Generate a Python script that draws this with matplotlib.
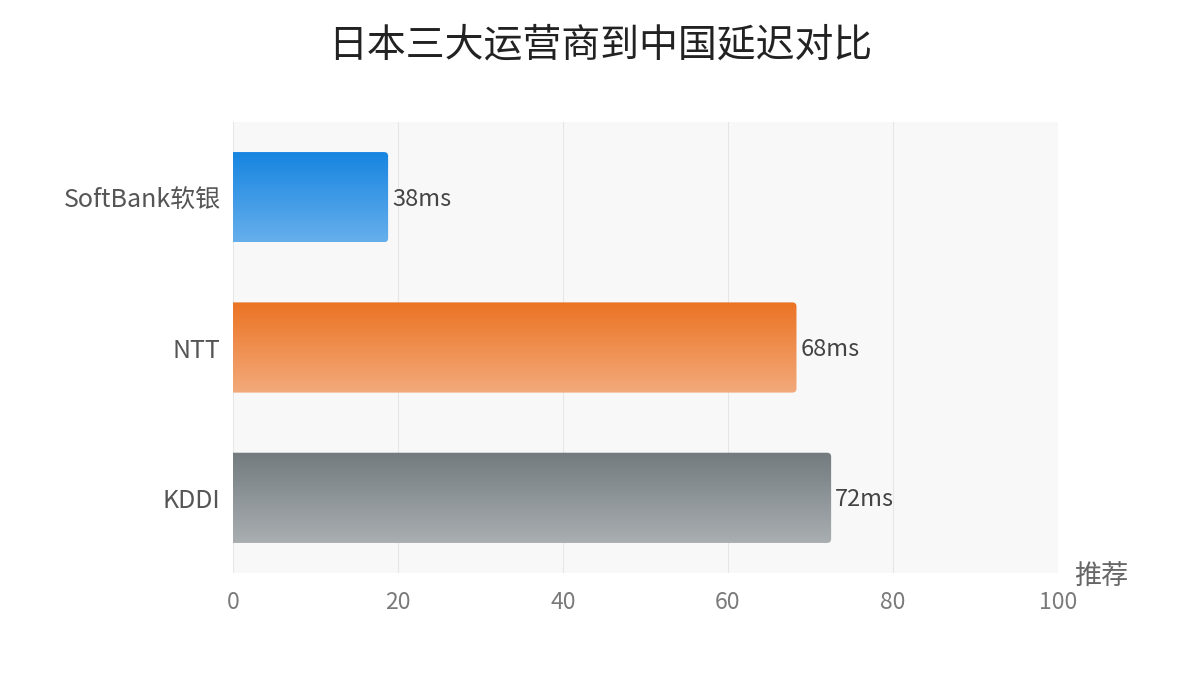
import matplotlib
matplotlib.use("Agg")
import matplotlib.pyplot as plt
import numpy as np
from matplotlib.patches import FancyBboxPatch
from matplotlib.colors import to_rgba

plt.rcParams['font.family'] = ['Noto Sans CJK SC', 'DejaVu Sans']

# ---- data ----
categories = ["SoftBank软银", "NTT", "KDDI"]
values = [18.8, 68.3, 72.5]
value_labels = ["38ms", "68ms", "72ms"]
top_colors = ["#1684e0", "#eb7323", "#737b7f"]
bottom_colors = ["#66afec", "#f3aa7c", "#a9aeb1"]
xticks = [0, 20, 40, 60, 80, 100]
title = "日本三大运营商到中国延迟对比"
axis_name = "推荐"

fig = plt.figure(figsize=(12, 7), dpi=100)
fig.patch.set_facecolor("white")
ax = fig.add_axes([233 / 1200, 127 / 700, 825 / 1200, 451 / 700])
ax.set_facecolor("#f8f8f8")

ypos = np.arange(len(categories))
bar_h = 0.6
bars = ax.barh(ypos, values, height=bar_h, color="none", zorder=2)
ax.set_xlim(0, 100)
ax.set_ylim(len(categories) - 0.5, -0.5)

for b, tc, bc, lab in zip(bars, top_colors, bottom_colors, value_labels):
    x0, y0 = b.get_x(), b.get_y()
    w, h = b.get_width(), b.get_height()
    n = 256
    t = np.linspace(0, 1, n)[:, None]
    c1 = np.array(to_rgba(tc))
    c2 = np.array(to_rgba(bc))
    grad = (c1[None, :] * (1 - t) + c2[None, :] * t)[:, None, :]
    im = ax.imshow(grad, extent=(x0, x0 + w, y0 + h, y0), origin="upper",
                   aspect="auto", zorder=3, interpolation="bilinear")
    patch = FancyBboxPatch((x0 - 2, y0), w + 2, h,
                           boxstyle="round,pad=0,rounding_size=0.5",
                           mutation_aspect=0.054, facecolor="none",
                           edgecolor="none", transform=ax.transData)
    ax.add_patch(patch)
    im.set_clip_path(patch)
    ax.annotate(lab, xy=(x0 + w, y0 + h / 2), xytext=(3, -1.5),
                textcoords="offset points", va="center", ha="left",
                fontsize=17, color="#444444", fontweight="light")

ax.set_aspect("auto")
ax.set_xlim(0, 100)
ax.set_ylim(len(categories) - 0.5, -0.5)

ax.set_xticks(xticks)
ax.set_xticklabels([str(v) for v in xticks], fontsize=16.5, color="#7a7a7a",
                   fontweight="light")
ax.set_yticks(ypos)
ax.set_yticklabels(categories, fontsize=18, color="#555555", fontweight="light")
ax.tick_params(axis="both", length=0)
ax.tick_params(axis="x", pad=13)
ax.tick_params(axis="y", pad=9)
for s in ax.spines.values():
    s.set_visible(False)
ax.grid(axis="x", color="#e6e6e6", linewidth=0.8, zorder=1)
ax.set_axisbelow(True)

ax.text(1.02, -0.01, axis_name, transform=ax.transAxes, ha="left", va="center",
        fontsize=19.5, color="#666666", fontweight="light")

fig.text(0.5, 1 - 45 / 700, title, ha="center", va="center", fontsize=28,
         color="#222222", fontweight="light")

fig.savefig("out.png", dpi=100, facecolor="white")
